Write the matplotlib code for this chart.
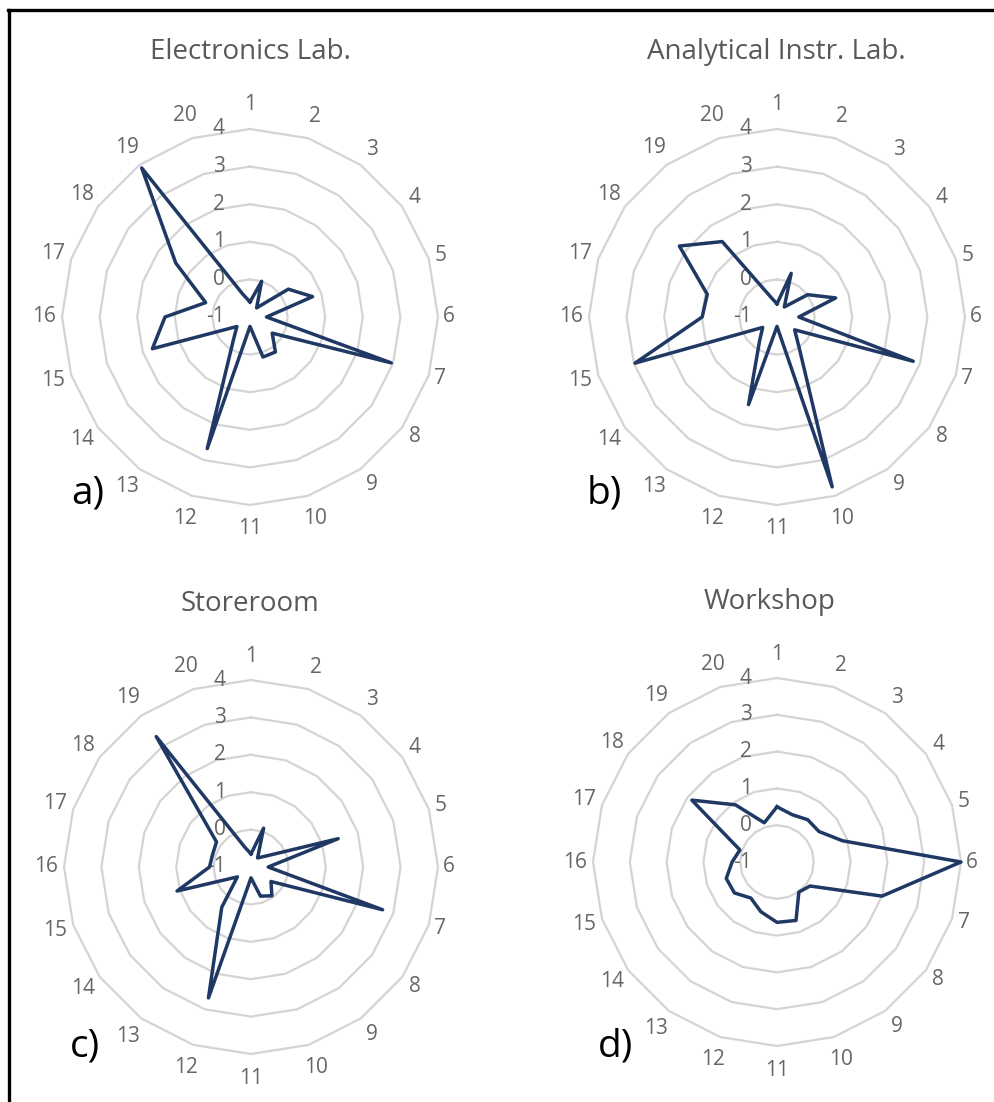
import numpy as np
import matplotlib
matplotlib.use("Agg")
import matplotlib.pyplot as plt
from matplotlib.lines import Line2D

plt.rcParams['font.family'] = ['Open Sans', 'DejaVu Sans']

# categories 1..20 around the radar
categories = [str(i) for i in range(1, 21)]
levels = [-1, 0, 1, 2, 3, 4]

electronics = [-0.6, 0.0, -0.7, 0.26, 0.75, -0.56, 2.95, -0.27, 0.15, 0.12,
               -0.75, 2.68, -0.25, -0.57, 1.73, 1.26, 0.24, 1.44, 3.9, -0.35]
analytical = [-0.65, 0.22, -0.67, 0.01, 0.64, -0.42, 2.81, -0.42, 0.0, 3.75,
              -0.75, 1.45, -0.21, -0.53, 2.97, 0.99, 0.95, 2.21, 1.48, -0.43]
storeroom = [-0.65, 0.09, -0.7, -0.5, 1.45, -0.54, 2.7, -0.34, -0.05, -0.18,
             -0.71, 2.68, 0.33, -0.55, 1.08, 0.11, 0.08, 0.14, 3.31, -0.43]
workshop = [0.5, 0.35, 0.42, 0.41, 0.87, 4.0, 2.0, 0.11, 0.01, 0.67,
            0.64, 0.42, 0.21, 0.43, 0.45, 0.22, 0.06, 1.86, 0.92, 0.12]

titles = ["Electronics Lab.", "Analytical Instr. Lab.", "Storeroom", "Workshop"]
letters = ["a)", "b)", "c)", "d)"]
series = [electronics, analytical, storeroom, workshop]

W, H = 995, 1102
# (center x, center y, radius of ring 4) in pixels from top-left
panels = [(250, 317, 188), (777, 317, 188), (251, 867, 187), (777, 862, 184)]
title_pos = [(250, 52), (776, 52), (250, 604), (770, 602)]
letter_pos = [(88, 493), (604, 493), (85, 1047), (616, 1047)]

GRID = '#d4d4d4'
LINE = '#1f3864'
LABEL = '#666666'

fig = plt.figure(figsize=(W / 100, H / 100), dpi=100)

n = len(categories)
theta = np.arange(n) * 2 * np.pi / n
theta_closed = np.append(theta, theta[0])

for k in range(4):
    cx, cy, R = panels[k]
    rect = [(cx - R) / W, (H - cy - R) / H, 2 * R / W, 2 * R / H]
    ax = fig.add_axes(rect, projection='polar')
    ax.set_theta_zero_location('N')
    ax.set_theta_direction(-1)
    ax.set_ylim(-1, 4)
    ax.grid(False)
    ax.set_xticks([])
    ax.set_yticks([])
    ax.spines['polar'].set_visible(False)
    ax.patch.set_alpha(0)

    # polygon gridlines
    for lv in levels[1:]:
        ax.plot(theta_closed, [lv] * (n + 1), color=GRID, lw=1.6, clip_on=False, zorder=1)

    vals = series[k]
    ax.plot(theta_closed, vals + [vals[0]], color=LINE, lw=2.5, clip_on=False, zorder=3)

    # value axis labels
    for lv in levels:
        ax.annotate(str(lv), xy=(0, lv), xytext=(-18, 0), textcoords='offset points',
                    ha='right', va='center', fontsize=15, color=LABEL, zorder=2)

    # category labels
    for t, lab in zip(theta, categories):
        s, c = np.sin(t), np.cos(t)
        off = (11 + 13 * c ** 2 + 7 * (len(lab) - 1) * s ** 2) * 0.72
        ax.annotate(lab, xy=(t, 4), xytext=(off * s, off * c), textcoords='offset points',
                    ha='center', va='center', fontsize=15, color=LABEL)

    tx, ty = title_pos[k]
    fig.text(tx / W, 1 - ty / H, titles[k], ha='center', va='center',
             fontsize=20, color='#595959')
    lx, ly = letter_pos[k]
    fig.text(lx / W, 1 - ly / H, letters[k], ha='center', va='center',
             fontsize=28, color='black')

# frame lines at top and left
fig.add_artist(Line2D([8 / W, 1], [1 - 10 / H, 1 - 10 / H], color='black', lw=2.4,
                      transform=fig.transFigure))
fig.add_artist(Line2D([9 / W, 9 / W], [0, 1 - 10 / H], color='black', lw=2.4,
                      transform=fig.transFigure))

fig.savefig('out.png', dpi=100, facecolor='white')
